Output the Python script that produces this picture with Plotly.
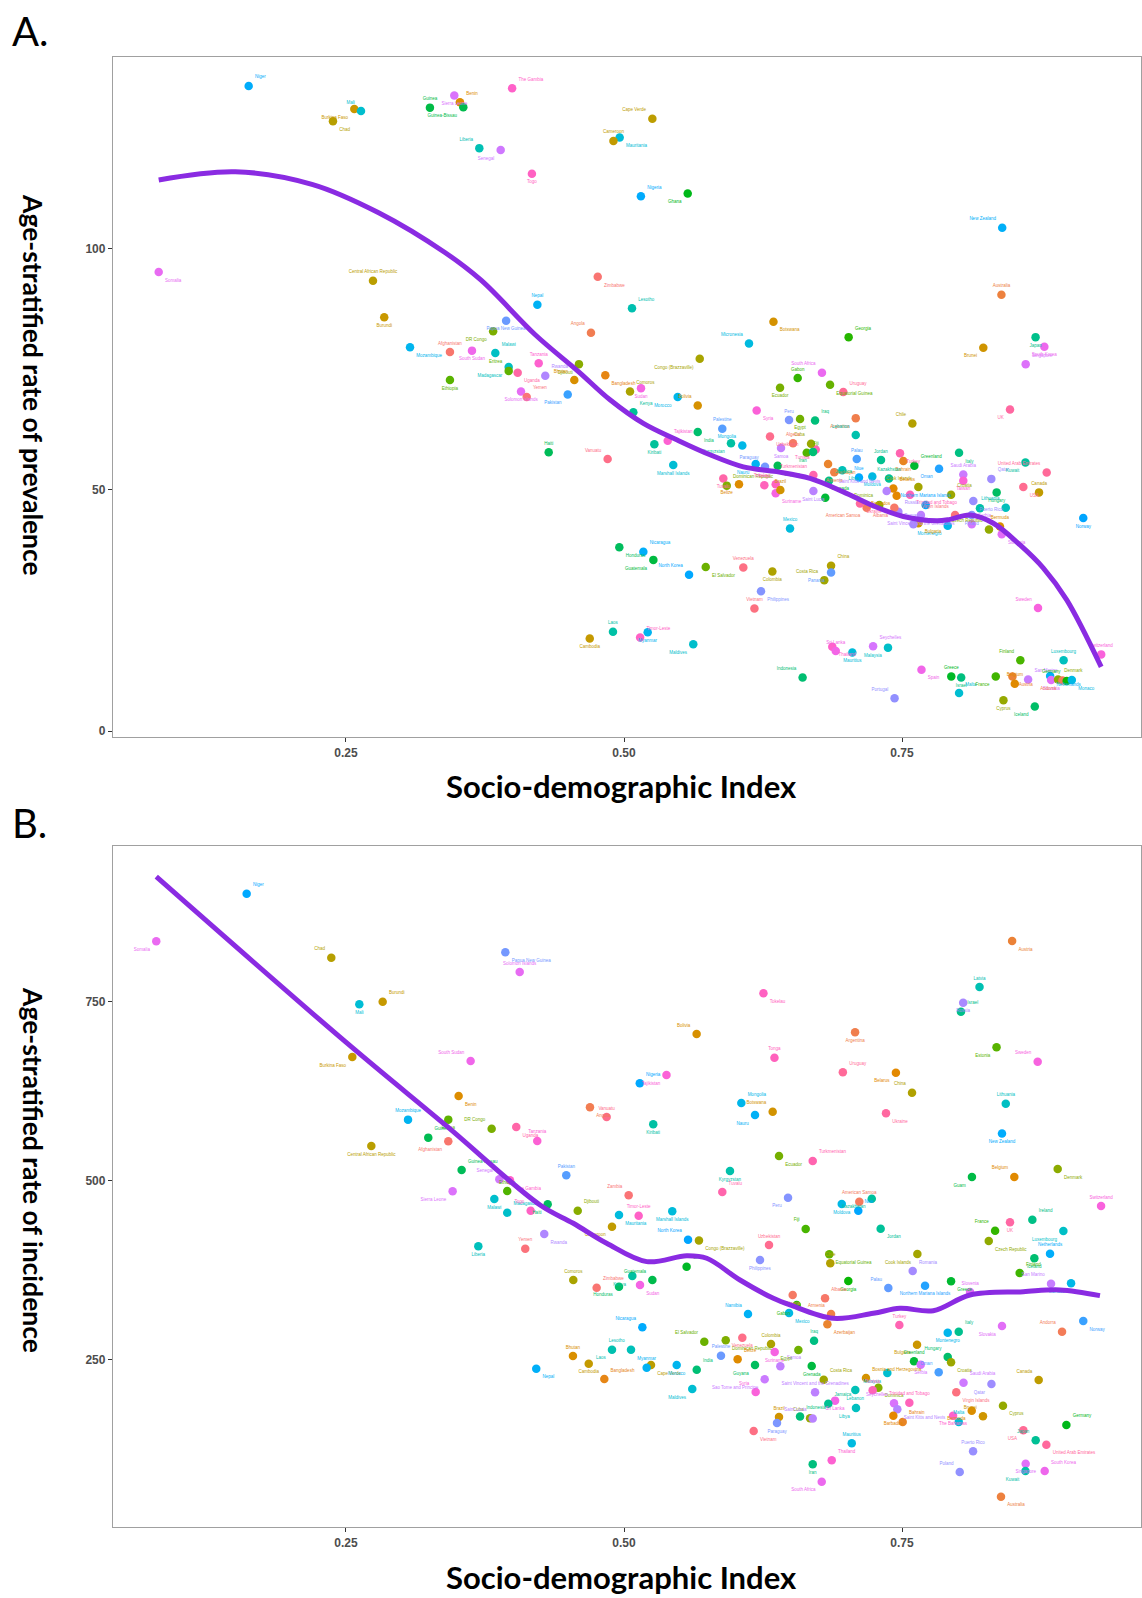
import math
import plotly.graph_objects as go

# ---------------- Panel A: prevalence ----------------
names_a = ["Niger","Burkina Faso","Mali","Chad","Guinea","Sierra Leone","Benin","Guinea-Bissau","Liberia","Somalia",
"Central African Republic","Burundi","The Gambia","Senegal","Cape Verde","Mauritania","Cameroon","Togo","Nigeria","Ghana",
"New Zealand","Zimbabwe","Nepal","Papua New Guinea","Lesotho","DR Congo","Angola","Botswana","Australia","Japan",
"Georgia","Brunei","Micronesia","Mozambique","Afghanistan","South Sudan","Malawi","Madagascar","Eritrea","Uganda",
"Tanzania","Ethiopia","Rwanda","Djibouti","Bhutan","Bangladesh","Haiti","Solomon Islands","Yemen","Pakistan",
"Vanuatu","Honduras","Laos","Cambodia","Kenya","Congo (Brazzaville)","South Africa","Equatorial Guinea","Gabon","Ecuador",
"Uruguay","Argentina","Lebanon","Libya","Palau","Sudan","Comoros","Morocco","Bolivia","India",
"Palestine","Kiribati","Tajikistan","Kyrgyzstan","Mongolia","Syria","Peru","Egypt","Iraq","Tunisia",
"Cuba","Uzbekistan","Algeria","Samoa","Fiji","Iran","Turkmenistan","Azerbaijan","Niue","Armenia",
"Jamaica","Nauru","Paraguay","Guyana","Tonga","Tuvalu","Dominican Republic","Belize","Tokelau","Suriname",
"Brazil","Saint Lucia","Grenada","American Samoa","Dominica","Ukraine","Mexico","Marshall Islands","Nicaragua","Guatemala",
"North Korea","El Salvador","Venezuela","Colombia","China","Panama","Costa Rica","Philippines","Vietnam","Myanmar",
"Timor-Leste","Maldives","Indonesia","Thailand","Sri Lanka","Mauritius","Seychelles","Malaysia","Portugal","Spain",
"Greece","Israel","Malta","France","Finland","Austria","Belgium","Cyprus","San Marino","Iceland",
"Sweden","Netherlands","Luxembourg","Slovakia","Denmark","Andorra","Germany","Monaco","Switzerland","South Korea",
"Singapore","UK","Chile","Turkey","Jordan","Bahrain","Greenland","Oman","Cook Islands","Trinidad and Tobago",
"Kazakhstan","Moldova","Belarus","Barbados","Saint Kitts and Nevis","Italy","Saudi Arabia","Taiwan","Qatar","Kuwait",
"United Arab Emirates","USA","Canada","Hungary","Croatia","Latvia","Lithuania","Puerto Rico","Northern Mariana Islands","Poland",
"Serbia","Montenegro","Virgin Islands","Bulgaria","Romania","Saint Vincent and the Grenadines","Russia","Albania","Czech Republic","Slovenia",
"Bermuda","Norway"]
sdi_a = [0.1625,0.2575,0.2635,0.2383,0.3255,0.3474,0.3525,0.3555,0.3699,0.0816,
0.2743,0.2844,0.3994,0.3891,0.5255,0.4961,0.4905,0.4172,0.5152,0.5573,
0.8401,0.4764,0.4221,0.3940,0.5072,0.3823,0.4703,0.6344,0.8394,0.8701,
0.7020,0.8231,0.6124,0.3076,0.3435,0.3633,0.3843,0.3963,0.3963,0.4044,
0.4233,0.3435,0.4292,0.4595,0.4553,0.4832,0.4323,0.4074,0.4125,0.4494,
0.4853,0.4958,0.4901,0.4692,0.5084,0.5681,0.6780,0.6853,0.6562,0.6403,
0.6972,0.7084,0.7084,0.6963,0.7093,0.5153,0.5054,0.5483,0.5663,0.5663,
0.5884,0.5273,0.5393,0.5962,0.6064,0.6193,0.6484,0.6583,0.6718,0.6724,
0.6682,0.6313,0.6520,0.6412,0.6643,0.6700,0.6703,0.6835,0.7113,0.6891,
0.6843,0.6184,0.6268,0.6382,0.6262,0.5893,0.5924,0.6034,0.6364,0.6364,
0.6406,0.6703,0.6810,0.7182,0.7296,0.7122,0.6493,0.5443,0.5174,0.5264,
0.5585,0.5735,0.6073,0.6334,0.6862,0.6862,0.6801,0.6232,0.6173,0.5213,
0.5145,0.5623,0.6606,0.6873,0.6904,0.7053,0.7240,0.7374,0.7433,0.7675,
0.7943,0.8032,0.8013,0.8343,0.8564,0.8493,0.8514,0.8412,0.8634,0.8694,
0.8723,0.8832,0.8953,0.8841,0.8903,0.8943,0.8981,0.9027,0.9291,0.8780,
0.8612,0.8471,0.7593,0.7482,0.7311,0.7512,0.7611,0.7833,0.7647,0.7572,
0.7383,0.7233,0.7422,0.7452,0.7362,0.8013,0.8051,0.8051,0.8303,0.8610,
0.8801,0.8591,0.8732,0.8351,0.7941,0.8201,0.8433,0.8141,0.7713,0.8127,
0.8127,0.7911,0.7977,0.7647,0.7602,0.7670,0.7467,0.7431,0.8282,0.8397,
0.8381,0.9130]
prev_a = [133.8,129.0,128.6,126.5,129.3,131.8,130.4,129.4,120.9,95.2,
93.4,85.8,133.3,120.5,127.0,123.1,122.4,115.6,110.9,111.5,
104.4,94.2,88.4,85.1,87.7,82.9,82.6,84.9,90.5,81.7,
81.7,79.5,80.4,79.6,78.6,78.9,78.4,75.5,74.7,74.3,
76.3,72.8,73.7,76.1,72.8,73.8,57.8,70.4,69.3,69.8,
56.4,38.1,20.6,19.2,66.1,77.2,74.3,71.8,73.2,71.2,
70.3,64.9,61.4,54.1,56.4,71.1,70.4,69.3,67.5,62.0,
62.7,59.5,60.2,59.7,59.2,66.5,64.5,64.7,64.4,58.4,
59.6,61.1,59.7,58.7,57.7,57.9,53.1,55.4,52.6,53.7,
51.9,55.4,54.8,55.0,51.0,52.4,50.9,51.2,51.2,49.3,
50.0,49.8,48.4,46.3,46.9,47.2,42.0,55.2,37.2,35.5,
32.4,34.0,33.9,33.1,34.3,32.9,31.3,29.0,25.4,20.5,
19.4,18.0,11.1,17.5,16.6,16.3,17.6,17.3,6.8,12.7,
11.3,11.1,7.9,11.3,14.7,11.3,9.8,6.4,10.7,5.1,
25.5,11.4,14.7,10.6,10.7,10.5,10.4,10.6,15.9,79.7,
76.1,66.7,63.8,57.6,56.2,56.0,55.0,54.4,50.6,49.0,
52.4,52.8,50.3,48.8,49.8,57.7,53.2,51.9,52.3,55.7,
53.6,50.6,49.5,49.5,49.0,46.2,46.3,47.7,46.9,44.8,
42.9,42.6,44.8,43.1,42.9,44.8,45.5,46.3,41.8,40.8,
42.4,44.2]

curve_a_sdi = [0.0816,0.1505,0.2194,0.2794,0.3393,0.3715,0.4202,0.4593,0.4874,0.5174,0.5474,0.5773,0.6073,
               0.6373,0.6673,0.6972,0.7242,0.7512,0.7812,0.7932,0.8112,0.8321,0.8561,0.8771,0.8981,0.9291]
curve_a_val = [114.3,116.0,113.4,107.5,99.2,93.5,82.2,74.5,68.7,63.8,60.4,57.3,54.8,
               53.8,52.4,49.6,46.7,44.5,43.6,43.9,44.8,43.1,38.6,33.8,27.2,13.3]

# ---------------- Panel B: incidence ----------------
names_b = ["Niger","Somalia","Chad","Papua New Guinea","Solomon Islands","Mali","Burundi","Burkina Faso","South Sudan","Benin",
"Mozambique","Eritrea","Guinea","Afghanistan","DR Congo","Uganda","Tanzania","Central African Republic","Guinea-Bissau","Sierra Leone",
"Senegal","The Gambia","Ethiopia","Malawi","Madagascar","Haiti","Togo","Rwanda","Yemen","Liberia",
"Zimbabwe","Honduras","Nicaragua","Nepal","Bhutan","Cambodia","Bangladesh","Laos","Lesotho","Cape Verde",
"Myanmar","Morocco","India","Maldives","El Salvador","Dominican Republic","Palestine","Venezuela","Belize","Guyana",
"Namibia","Mexico","Colombia","Suriname","Samoa","Sao Tome and Principe","Syria","Vietnam","Brazil","Paraguay",
"Indonesia","Egypt","Cuba","Angola","Vanuatu","Kiribati","Mongolia","Nauru","Botswana","Ecuador",
"Pakistan","Kyrgyzstan","Tuvalu","Peru","Zambia","Mauritania","Timor-Leste","Marshall Islands","Djibouti","Cameroon",
"North Korea","Congo (Brazzaville)","Uzbekistan","Philippines","Ghana","Kenya","Guatemala","Sudan","Comoros","Algeria",
"Nigeria","Tajikistan","Bolivia","Tokelau","Tonga","Argentina","Uruguay","Belarus","China","Austria",
"Latvia","Russia","Israel","Estonia","Sweden","Ukraine","Lithuania","New Zealand","Turkmenistan","Guam",
"Belgium","Denmark","American Samoa","Moldova","Niue","Kazakhstan","Fiji","Jordan","Switzerland","UK",
"Ireland","Luxembourg","France","Czech Republic","Netherlands","Iceland","Finland","Monaco","San Marino","Greece",
"Slovenia","Northern Mariana Islands","Romania","Cook Islands","Palau","Equatorial Guinea","Chile","Georgia","Albania","Gabon",
"Armenia","Azerbaijan","Turkey","Montenegro","Italy","Slovakia","Andorra","Norway","Iraq","Grenada",
"Costa Rica","Bulgaria","Hungary","Croatia","Greenland","Serbia","Bosnia and Herzegovina","Malaysia","Oman","Dominica",
"Tunisia","Lebanon","Saudi Arabia","Qatar","Canada","Virgin Islands","Saint Vincent and the Grenadines","Sri Lanka","Jamaica","Libya",
"Seychelles","Saint Kitts and Nevis","Trinidad and Tobago","Barbados","Bahrain","Bermuda","Brunei","Cyprus","Malta","The Bahamas",
"Germany","USA","Japan","United Arab Emirates","Puerto Rico","Singapore","South Korea","Kuwait","Poland","Australia",
"Mauritius","Iran","Thailand","South Africa","Saint Lucia"]
sdi_b = [0.1607,0.0794,0.2368,0.3933,0.4062,0.2620,0.2830,0.2557,0.3621,0.3513,
0.3058,0.3420,0.3240,0.3420,0.3810,0.4031,0.4220,0.2728,0.3540,0.3459,
0.3879,0.3975,0.3950,0.3834,0.3950,0.4314,0.4161,0.4283,0.4112,0.3690,
0.4754,0.4955,0.5165,0.4211,0.4541,0.4683,0.4823,0.4892,0.5063,0.5243,
0.5204,0.5474,0.5654,0.5614,0.5722,0.5915,0.5872,0.6064,0.6022,0.6178,
0.6115,0.6484,0.6322,0.6355,0.6406,0.6265,0.6184,0.6166,0.6394,0.6376,
0.6583,0.6568,0.6673,0.4694,0.4844,0.5263,0.6055,0.6178,0.6337,0.6394,
0.4481,0.5953,0.5884,0.6475,0.5042,0.4955,0.5132,0.5434,0.4584,0.4892,
0.5576,0.5674,0.6304,0.6223,0.5563,0.5075,0.5255,0.5144,0.4544,0.6517,
0.5142,0.5382,0.5653,0.6254,0.6353,0.7078,0.6968,0.7445,0.7590,0.8490,
0.8197,0.8050,0.8030,0.8350,0.8720,0.7356,0.8433,0.8399,0.6697,0.8129,
0.8510,0.8900,0.7116,0.6958,0.7107,0.7228,0.6634,0.7308,0.9290,0.8471,
0.8672,0.8951,0.8337,0.8280,0.8831,0.8690,0.8558,0.9020,0.8840,0.7941,
0.8112,0.7707,0.7596,0.7638,0.7377,0.6846,0.6855,0.7017,0.6808,0.6553,
0.6862,0.6829,0.7476,0.7911,0.8010,0.8399,0.8939,0.9130,0.6709,0.6688,
0.6796,0.7635,0.7911,0.7941,0.7608,0.7668,0.7176,0.7368,0.7830,0.7287,
0.7236,0.7080,0.8053,0.8304,0.8729,0.7988,0.6718,0.6898,0.6837,0.7086,
0.7428,0.7458,0.7566,0.7422,0.7506,0.8127,0.8228,0.8408,0.8010,0.7959,
0.8978,0.8591,0.8702,0.8798,0.8139,0.8612,0.8783,0.8610,0.8019,0.8390,
0.7048,0.6697,0.6868,0.6778,0.6697]
inc_b = [900.2,833.8,810.9,818.5,791.0,745.9,749.6,672.5,666.9,618.1,
585.1,585.1,560.0,555.0,572.5,574.9,555.4,548.4,514.9,485.2,
502.0,500.6,485.6,474.5,455.4,467.1,458.2,425.7,405.2,408.5,
350.8,352.2,295.6,237.9,255.6,244.8,223.5,264.4,264.4,243.0,
239.3,243.0,236.5,209.6,275.5,277.5,256.0,281.1,251.0,243.0,
314.1,315.5,272.3,261.2,241.2,223.1,205.4,151.0,170.5,162.2,
171.0,263.9,168.7,602.3,588.8,578.6,608.3,591.6,596.2,534.4,
507.5,513.5,484.2,476.3,479.6,452.2,451.2,457.3,458.2,435.9,
417.7,416.4,410.3,389.4,380.1,367.1,361.5,354.6,361.5,340.6,
635.8,647.4,704.5,761.3,671.5,706.9,651.1,650.6,622.6,834.2,
770.1,748.2,735.6,686.0,665.9,594.0,607.4,565.8,527.5,505.2,
505.2,516.3,470.7,467.5,458.2,474.9,432.7,433.1,464.7,442.0,
445.6,429.9,430.3,415.9,398.2,391.8,371.3,356.9,356.4,359.7,
344.8,353.6,374.1,397.8,350.4,397.4,384.8,360.2,336.0,326.7,
314.1,299.8,298.8,288.1,289.5,297.4,289.5,304.4,276.9,241.6,
222.5,271.3,254.2,246.8,248.2,243.5,224.9,231.9,232.8,211.4,
207.8,208.2,218.3,216.5,222.1,205.0,205.0,193.3,189.1,183.1,
189.6,181.3,190.5,172.3,163.6,179.3,171.5,186.3,163.6,172.3,
159.4,152.0,138.0,131.9,122.7,105.4,95.2,95.2,93.8,59.4,
133.9,104.5,110.1,80.3,168.4]

curve_b_sdi = [0.0794,0.2494,0.3393,0.4245,0.4544,0.4844,0.5204,0.5564,0.5744,0.6043,
               0.6343,0.6493,0.6882,0.7242,0.7482,0.7781,0.8111,0.8591,0.8920,0.9280]
curve_b_val = [923.9,693.8,577.7,466.1,440.6,412.7,387.1,395.4,391.8,361.5,
               336.0,326.7,308.1,315.1,322.1,318.7,340.6,345.2,347.6,339.7]

x_ticks = [0.25, 0.50, 0.75]
x_tick_labels = ["0.25", "0.50", "0.75"]
ya_ticks = [0, 50, 100]
yb_ticks = [250, 500, 750]


# ggplot2 default hue palette (hcl, c=100, l=65)
def hcl_hex(h, c=100.0, l=65.0):
    hr = math.radians(h)
    U = c * math.cos(hr)
    V = c * math.sin(hr)
    Xn, Yn, Zn = 95.047, 100.0, 108.883
    Y = Yn * ((l + 16) / 116) ** 3
    t = Xn + 15 * Yn + 3 * Zn
    un, vn = 4 * Xn / t, 9 * Yn / t
    u = U / (13 * l) + un
    v = V / (13 * l) + vn
    X = 9.0 * Y * u / (4 * v)
    Z = -X / 3 - 5 * Y + 3 * Y / v
    X, Y, Z = X / 100, Y / 100, Z / 100
    r = 3.240479 * X - 1.537150 * Y - 0.498535 * Z
    g = -0.969256 * X + 1.875992 * Y + 0.041556 * Z
    b = 0.055648 * X - 0.204043 * Y + 1.057311 * Z

    def gam(x):
        x = 1.055 * x ** (1 / 2.4) - 0.055 if x > 0.00304 else 12.92 * x
        return int(round(max(0, min(1, x)) * 255))
    return "#%02X%02X%02X" % (gam(r), gam(g), gam(b))


def colour_map(names):
    lv = sorted(set(names), key=lambda s: s.lower())
    n = len(lv)
    return {nm: hcl_hex(15 + 360.0 * i / n) for i, nm in enumerate(lv)}


positions = ["top right", "bottom left", "top left", "bottom right", "top center", "bottom center"]

fig = go.Figure()


def add_panel(names, xs, ys, xa, ya):
    cmap = colour_map(names)
    cols = [cmap[n] for n in names]
    fig.add_trace(go.Scatter(
        x=xs, y=ys, mode="markers+text", text=names,
        textposition=[positions[i % len(positions)] for i in range(len(names))],
        textfont=dict(size=4.5, color=cols, family="Liberation Sans"),
        marker=dict(size=8.5, color=cols, line=dict(width=0)),
        xaxis=xa, yaxis=ya, hoverinfo="text", cliponaxis=False))


add_panel(names_a, sdi_a, prev_a, "x", "y")
fig.add_trace(go.Scatter(x=curve_a_sdi, y=curve_a_val, mode="lines",
                         line=dict(color="#8A2BE2", width=5, shape="spline", smoothing=1.0),
                         xaxis="x", yaxis="y", hoverinfo="skip"))
add_panel(names_b, sdi_b, inc_b, "x2", "y2")
fig.add_trace(go.Scatter(x=curve_b_sdi, y=curve_b_val, mode="lines",
                         line=dict(color="#8A2BE2", width=5, shape="spline", smoothing=1.0),
                         xaxis="x2", yaxis="y2", hoverinfo="skip"))

tickfont = dict(family="Liberation Sans", size=12, color="#4d4d4d", weight="bold")
common_axis = dict(showline=True, mirror=True, linecolor="#a0a0a0", linewidth=1.3,
                   ticks="outside", ticklen=4, tickwidth=1, tickcolor="#333333",
                   showgrid=False, zeroline=False, tickfont=tickfont)
xr = [0.0405, 0.9649]

fig.update_layout(
    width=1142, height=1598, autosize=False,
    margin=dict(l=113, r=1, t=57, b=71),
    paper_bgcolor="white", plot_bgcolor="white", showlegend=False,
    xaxis=dict(domain=[0, 1], anchor="y", range=xr, tickvals=x_ticks, ticktext=x_tick_labels, **common_axis),
    yaxis=dict(domain=[0.5374, 1], anchor="x", range=[-1.24, 139.8], tickvals=ya_ticks, **common_axis),
    xaxis2=dict(domain=[0, 1], anchor="y2", range=xr, tickvals=x_ticks, ticktext=x_tick_labels, **common_axis),
    yaxis2=dict(domain=[0, 0.4633], anchor="x2", range=[17.1, 966.7], tickvals=yb_ticks, **common_axis),
)

title_font = dict(family="Lato", size=31, color="black", weight="bold")
ytitle_font = dict(family="Lato", size=26.5, color="black", weight="bold")
panel_font = dict(family="Lato", size=40, color="black")


def px_x(p):   # page pixel -> paper fraction
    return (p - 113) / 1028.0


def px_y(p):
    return (1527 - p) / 1470.0


annots = [
    dict(text="A.", x=px_x(10), y=px_y(31), xanchor="left", yanchor="middle", font=panel_font),
    dict(text="B.", x=px_x(10), y=px_y(823), xanchor="left", yanchor="middle", font=panel_font),
    dict(text="Socio-demographic Index", x=px_x(621), y=px_y(786), xanchor="center", yanchor="middle", font=title_font),
    dict(text="Socio-demographic Index", x=px_x(621), y=px_y(1577), xanchor="center", yanchor="middle", font=title_font),
    dict(text="Age-stratified rate of prevalence", x=px_x(33), y=px_y(385), xanchor="center", yanchor="middle",
         textangle=90, font=ytitle_font),
    dict(text="Age-stratified rate of incidence", x=px_x(33), y=px_y(1170), xanchor="center", yanchor="middle",
         textangle=90, font=ytitle_font),
]
for a in annots:
    a.update(xref="paper", yref="paper", showarrow=False)
fig.update_layout(annotations=annots)

# remove the browser's default 8px page margin so the figure fills the window exactly
fig.write_html("out.html", config={"displayModeBar": False},
               post_script="document.body.style.margin='0';document.body.style.overflow='hidden';")
